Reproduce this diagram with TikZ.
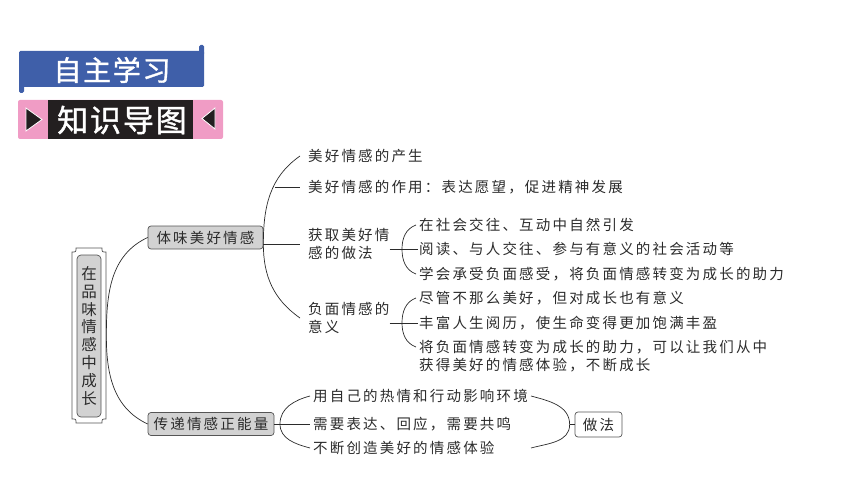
\documentclass[tikz,border=0pt]{standalone}
\usepackage{fontspec}
\newfontfamily\cjk[LetterSpace=15]{Noto Sans CJK SC}
\newfontfamily\cjkplain{Noto Sans CJK SC}
\newfontfamily\cjkhead[LetterSpace=6,FakeBold=1.2]{Noto Sans CJK SC}
\usetikzlibrary{positioning}
\definecolor{bannerblue}{HTML}{3F5FA9}
\definecolor{bannerpink}{HTML}{F09CC5}
\definecolor{bannerdark}{HTML}{231F20}
\definecolor{ink}{HTML}{2B2B2B}
\tikzset{
  leaf/.style={anchor=west, inner sep=0pt, text=ink, align=left,
    font=\cjk\fontsize{14.5}{18.5}\selectfont},
  branch/.style={draw=ink!80, fill=gray!35, rounded corners=3pt, line width=0.7pt,
    minimum height=23pt, inner xsep=5pt, inner ysep=0pt, text=ink,
    font=\cjk\fontsize{14.5}{18}\selectfont},
  rootbox/.style={draw=ink!80, fill=gray!35, rounded corners=4pt, line width=0.7pt,
    minimum width=24pt, minimum height=162pt, inner sep=0pt, align=center, text=ink,
    font=\cjkplain\fontsize{15.5}{17.9}\selectfont},
  waybox/.style={draw=ink!80, fill=white, rounded corners=3pt, line width=0.7pt,
    minimum width=47pt, minimum height=25pt, inner sep=0pt, text=ink,
    font=\cjk\fontsize{14.5}{18}\selectfont},
  brace/.style={draw=ink, line width=0.7pt},
}
\begin{document}
\begin{tikzpicture}[x=1pt, y=-1pt]
  \useasboundingbox (0,0) rectangle (860,484);

  % title banners
  \fill[bannerblue, rounded corners=1.5pt] (19,51) rectangle (204,87);
  \fill[bannerblue, rounded corners=1.5pt] (199,45) rectangle (204,55);
  \fill[bannerblue, rounded corners=1.5pt] (19,83) rectangle (24,93);
  \node[text=white, font=\cjkhead\fontsize{28}{28}\selectfont] (study) at (112,70) {自主学习};

  \fill[bannerpink, rounded corners=2pt] (18,100) rectangle (223,139);
  \fill[bannerdark] (48,100) rectangle (193,139);
  \filldraw[fill=bannerdark, draw=white, line width=0.8pt] (26,108) -- (42,119.5) -- (26,131) -- cycle;
  \filldraw[fill=bannerdark, draw=white, line width=0.8pt] (215,108) -- (202,118.5) -- (215,129) -- cycle;
  \node[text=white, font=\cjkhead\fontsize{31}{31}\selectfont] (map) at (122,120) {知识导图};

  % root
  \draw[fill=white, draw=ink!80, line width=0.7pt]
    (76,248) -- (102,248) .. controls (102,252) .. (106,252) -- (106,419)
    .. controls (102,419) .. (102,423) -- (76,423) .. controls (76,419) .. (72,419)
    -- (72,252) .. controls (76,252) .. (76,248) -- cycle;
  \node[rootbox] (root) at (89,336) {在\\品\\味\\情\\感\\中\\成\\长};

  % branches
  \node[branch, minimum width=115pt] (feel) at (205.5,237.5) {体味美好情感};
  \node[branch, minimum width=126pt] (pass) at (211,424) {传递情感正能量};
  \draw[brace] (feel.west) to[out=205,in=90] ([xshift=5pt]root.east) to[out=-90,in=155] (pass.west);

  % first branch
  \node[leaf] (a1) at (308,156) {美好情感的产生};
  \node[leaf] (a2) at (308,187) {美好情感的作用：表达愿望，促进精神发展};
  \node[leaf] (a3) at (308,244) {获取美好情\\感的做法};
  \node[leaf] (a4) at (308,318) {负面情感的\\意义};
  \draw[brace] ([xshift=-8pt]a1.west) to[out=215,in=90] (feel.east |- a3.west) to[out=-90,in=145] ([xshift=-8pt]a4.west);
  \draw[brace] ([xshift=-33pt]a2.west) -- ([xshift=-8pt]a2.west);
  \draw[brace] (feel.east |- a3.west) -- ([xshift=-8pt]a3.west);

  \node[leaf] (b1) at (419,225) {在社会交往、互动中自然引发};
  \node[leaf] (b2) at (419,249) {阅读、与人交往、参与有意义的社会活动等};
  \node[leaf] (b3) at (419,274) {学会承受负面感受，将负面情感转变为成长的助力};
  \draw[brace] ([xshift=-3pt]b1.west) to[out=200,in=90] ([xshift=-17pt]b2.west) to[out=-90,in=160] ([xshift=-3pt]b3.west);
  \draw[brace] (a3.east |- b2.west) -- ([xshift=-1pt]b2.west);

  \node[leaf] (c1) at (419,298) {尽管不那么美好，但对成长也有意义};
  \node[leaf] (c2) at (419,323) {丰富人生阅历，使生命变得更加饱满丰盈};
  \node[leaf] (c3) at (419,356) {将负面情感转变为成长的助力，可以让我们从中\\获得美好的情感体验，不断成长};
  \draw[brace] ([xshift=-3pt]c1.west) to[out=200,in=90] ([xshift=-17pt]c2.west) to[out=-90,in=160] ([xshift=-3pt,yshift=9pt]c3.west);
  \draw[brace] (a4.east |- c2.west) -- ([xshift=-1pt]c2.west);

  % second branch
  \node[leaf] (d1) at (313,396) {用自己的热情和行动影响环境};
  \node[leaf] (d2) at (313,424) {需要表达、回应，需要共鸣};
  \node[leaf] (d3) at (313,448) {不断创造美好的情感体验};
  \node[waybox] (way) at (598.5,424.5) {做法};
  \draw[brace] ([xshift=-3pt]d1.west) to[out=195,in=90] ([xshift=-33pt]d2.west) to[out=-90,in=165] ([xshift=-3pt]d3.west);
  \draw[brace] (pass.east) -- ([xshift=-3pt]d2.west);
  \draw[brace] ([xshift=3pt]d1.east) to[out=-15,in=90] ([xshift=-5pt]way.west) to[out=-90,in=15] ([xshift=3pt]d1.east |- d3.west);
  \draw[brace] ([xshift=-5pt]way.west) -- (way.west);
\end{tikzpicture}
\end{document}
